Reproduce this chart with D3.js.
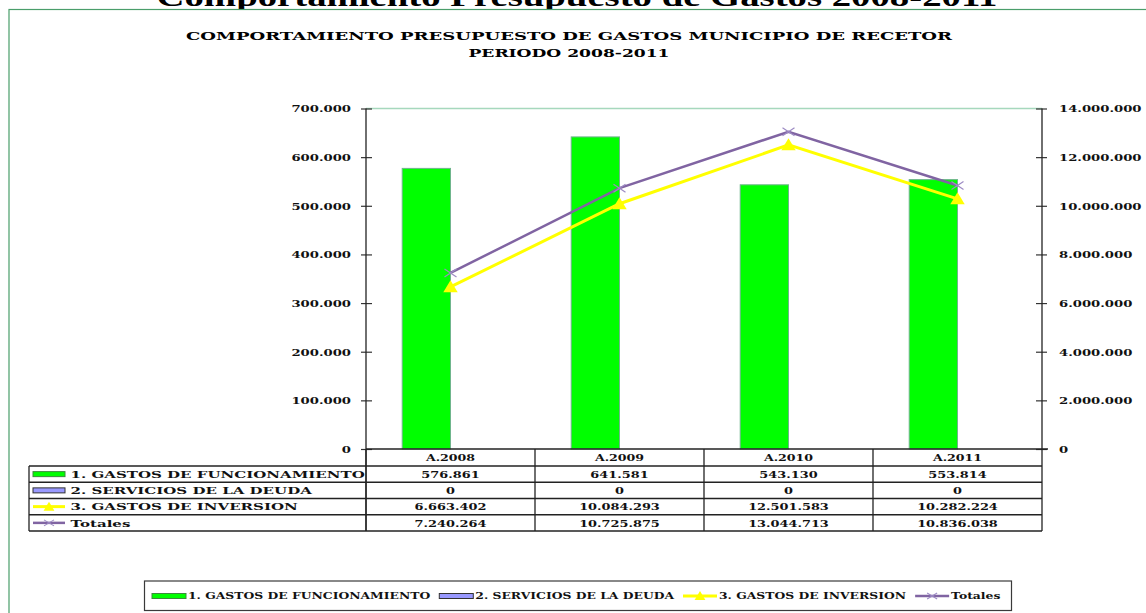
<!DOCTYPE html>
<html><head><meta charset="utf-8">
<script src="https://cdn.jsdelivr.net/npm/d3@7"></script>
<style>body{margin:0;background:#fff;} svg{display:block;}</style>
</head><body>
<svg id="c" width="1146" height="613"></svg>
<script>
// ---------------- DATA ----------------
const categories = ["A.2008", "A.2009", "A.2010", "A.2011"];
const funcionamiento = [576861, 641581, 543130, 553814];
const deuda = [0, 0, 0, 0];
const inversion = [6663402, 10084293, 12501583, 10282224];
const totales = [7240264, 10725875, 13044713, 10836038];
const seriesNames = ["1. GASTOS DE FUNCIONAMIENTO", "2. SERVICIOS DE LA DEUDA", "3. GASTOS DE INVERSION", "Totales"];
const leftTicks = [0, 100000, 200000, 300000, 400000, 500000, 600000, 700000];
const rightTicks = [0, 2000000, 4000000, 6000000, 8000000, 10000000, 12000000, 14000000];
const pageTitle = "Comportamiento Presupuesto de Gastos 2008-2011";
const chartTitle = ["COMPORTAMIENTO PRESUPUESTO DE GASTOS MUNICIPIO DE RECETOR", "PERIODO 2008-2011"];

// ---------------- SETUP ----------------
const svg = d3.select("#c");
const fmt = d3.formatLocale({decimal: ",", thousands: ".", grouping: [3], currency: ["", ""]}).format(",d");
const FONT = "'DejaVu Serif', serif";
const C = {green: "#00ff00", blue: "#9999ff", yellow: "#ffff00", purple: "#8064a2", purpleMk: "#9d8bc4"};

function stretch(sel, f) {
  let last = 0;
  sel.each(function () {
    const w = this.getComputedTextLength();
    last = w * f;
    this.setAttribute("textLength", w * f);
    this.setAttribute("lengthAdjust", "spacingAndGlyphs");
  });
  return last;
}

const L = 366, R = 1042, T = 108.5, B = 449;
const x0 = d3.scaleBand().domain(categories).range([L, R]).paddingInner(0).paddingOuter(0);
const x1 = d3.scaleBand().domain(["f", "d"]).range([0, x0.bandwidth()]).paddingInner(0).paddingOuter(0.75);
const yL = d3.scaleLinear().domain([0, 700000]).range([B, T]);
const yR = d3.scaleLinear().domain([0, 14000000]).range([B, T]);
const cx = c => x0(c) + x0.bandwidth() / 2;

// big page title (partially hidden behind chart object)
svg.append("text").attr("x", 577).attr("y", 6).attr("text-anchor", "middle")
  .attr("font-family", "'Liberation Serif', serif").attr("font-weight", "bold").attr("font-size", 28)
  .attr("textLength", 841).attr("lengthAdjust", "spacingAndGlyphs")
  .attr("fill", "#000").text(pageTitle);

// chart object area
svg.append("rect").attr("x", 9).attr("y", 9.5).attr("width", 1300).attr("height", 800)
  .attr("fill", "#fff").attr("stroke", "#4a9e6a").attr("stroke-width", 1.2);

// chart title
const tw = [766, 201];
chartTitle.forEach((t, i) => {
  svg.append("text").attr("x", 569).attr("y", 40 + i * 16.5).attr("text-anchor", "middle")
    .attr("font-family", FONT).attr("font-weight", "bold").attr("font-size", 11.5)
    .attr("textLength", tw[i]).attr("lengthAdjust", "spacingAndGlyphs")
    .attr("fill", "#000").text(t);
});

// top border of plot area
svg.append("line").attr("x1", L).attr("x2", R).attr("y1", T).attr("y2", T)
  .attr("stroke", "#a6d8bd").attr("stroke-width", 1.5);

// bars
const gBars = svg.append("g");
gBars.selectAll("rect.f").data(categories).join("rect").attr("class", "f")
  .attr("x", c => x0(c) + x1("f")).attr("width", x1.bandwidth())
  .attr("y", (c, i) => yL(funcionamiento[i])).attr("height", (c, i) => B - yL(funcionamiento[i]))
  .attr("fill", C.green).attr("stroke", "#6fb58c").attr("stroke-width", 1);
gBars.selectAll("rect.d").data(categories).join("rect").attr("class", "d")
  .attr("x", c => x0(c) + x1("d")).attr("width", x1.bandwidth())
  .attr("y", (c, i) => yL(deuda[i])).attr("height", (c, i) => B - yL(deuda[i]))
  .attr("fill", C.blue);

// axes
const axL = svg.append("g").attr("transform", `translate(${L},0)`)
  .call(d3.axisLeft(yL).tickValues(leftTicks).tickSize(5).tickFormat(fmt));
const axR = svg.append("g").attr("transform", `translate(${R},0)`)
  .call(d3.axisRight(yR).tickValues(rightTicks).tickSize(5).tickFormat(fmt));
[axL, axR].forEach(a => {
  a.select(".domain").remove();
  a.selectAll(".tick line").attr("stroke", "#333").attr("stroke-width", 1.2);
  a.selectAll("text").attr("font-family", FONT).attr("font-weight", "bold").attr("font-size", 9.7).attr("fill", "#111");
});
axL.selectAll(".tick line").attr("x1", 6);
axR.selectAll(".tick line").attr("x1", -6);
axL.selectAll("text").attr("x", -15).attr("dy", "0.35em");
axR.selectAll("text").attr("x", 17).attr("dy", "0.35em");
stretch(axL.selectAll("text"), 1.36);
stretch(axR.selectAll("text"), 1.36);

// lines
const lineGen = d3.line().x((d, i) => cx(categories[i])).y(d => yR(d));
svg.append("path").datum(totales).attr("d", lineGen).attr("fill", "none")
  .attr("stroke", C.purple).attr("stroke-width", 2.5);
svg.append("path").datum(inversion).attr("d", lineGen).attr("fill", "none")
  .attr("stroke", C.yellow).attr("stroke-width", 3);

function triangle(g, x, y, s) {
  g.append("path").attr("d", `M${x - s * 0.6},${y + s * 0.45} L${x + s * 0.6},${y + s * 0.45} L${x},${y - s * 0.55} Z`)
    .attr("fill", C.yellow);
}
function xMark(g, x, y, w, h, col, sw) {
  g.append("path").attr("d", `M${x - w / 2},${y - h / 2} L${x + w / 2},${y + h / 2} M${x - w / 2},${y + h / 2} L${x + w / 2},${y - h / 2}`)
    .attr("stroke", col).attr("stroke-width", sw).attr("fill", "none");
}
const gMk = svg.append("g");
inversion.forEach((v, i) => triangle(gMk, cx(categories[i]), yR(v), 12));
totales.forEach((v, i) => xMark(gMk, cx(categories[i]), yR(v), 12, 8, C.purpleMk, 1.2));

// axis lines (drawn on top, extended into table)
const tableTop = B, headH = 17, rowH = 16.25;
const tableBottom = tableTop + headH + rowH * 4;
svg.append("line").attr("x1", L).attr("x2", L).attr("y1", T).attr("y2", tableBottom).attr("stroke", "#222").attr("stroke-width", 1.3);
svg.append("line").attr("x1", R).attr("x2", R).attr("y1", T).attr("y2", tableBottom).attr("stroke", "#222").attr("stroke-width", 1.3);
svg.append("line").attr("x1", L).attr("x2", R + 6).attr("y1", B).attr("y2", B).attr("stroke", "#222").attr("stroke-width", 1.3);

// ---------------- DATA TABLE ----------------
function drawKey(g, r, xa, xb, y) {
  if (r === 0 || r === 1) {
    g.append("rect").attr("x", xa).attr("y", y - 2.5).attr("width", xb - xa).attr("height", 5)
      .attr("fill", r === 0 ? C.green : C.blue).attr("stroke", r === 0 ? "#3c8a3c" : "#333").attr("stroke-width", 1);
  } else if (r === 2) {
    g.append("line").attr("x1", xa).attr("x2", xb).attr("y1", y).attr("y2", y).attr("stroke", C.yellow).attr("stroke-width", 3);
    triangle(g, (xa + xb) / 2, y, 9);
  } else {
    g.append("line").attr("x1", xa).attr("x2", xb).attr("y1", y).attr("y2", y).attr("stroke", C.purple).attr("stroke-width", 2.5);
    xMark(g, (xa + xb) / 2, y, 10, 6, C.purpleMk, 1.1);
  }
}

const gT = svg.append("g");
const labL = 29;
categories.forEach(c => {
  gT.append("line").attr("x1", x0(c)).attr("x2", x0(c)).attr("y1", tableTop).attr("y2", tableBottom)
    .attr("stroke", "#222").attr("stroke-width", 1.3);
});
for (let r = 0; r <= 4; r++) {
  const y = tableTop + headH + r * rowH;
  gT.append("line").attr("x1", labL).attr("x2", R).attr("y1", y).attr("y2", y).attr("stroke", "#222").attr("stroke-width", 1.3);
}
gT.append("line").attr("x1", labL).attr("x2", labL).attr("y1", tableTop + headH).attr("y2", tableBottom).attr("stroke", "#222").attr("stroke-width", 1.3);

const hdr = gT.selectAll("text.h").data(categories).join("text").attr("class", "h")
  .attr("x", c => cx(c)).attr("y", tableTop + 12.3).attr("text-anchor", "middle")
  .attr("font-family", FONT).attr("font-weight", "bold").attr("font-size", 9.7).attr("fill", "#111")
  .text(c => c);
stretch(hdr, 1.3);

const rows = [funcionamiento, deuda, inversion, totales];
rows.forEach((vals, r) => {
  const yTop = tableTop + headH + r * rowH;
  const t = gT.selectAll(null).data(vals).join("text")
    .attr("x", (v, i) => cx(categories[i])).attr("y", yTop + 11.8).attr("text-anchor", "middle")
    .attr("font-family", FONT).attr("font-weight", "bold").attr("font-size", 9.7).attr("fill", "#111")
    .text(v => fmt(v));
  stretch(t, 1.33);
  const lab = gT.append("text").attr("x", 70.5).attr("y", yTop + 11.8)
    .attr("font-family", FONT).attr("font-weight", "bold").attr("font-size", 9.7).attr("fill", "#111")
    .text(seriesNames[r]);
  stretch(lab, 1.55);
  drawKey(gT, r, 33, 65, yTop + rowH / 2);
});

// ---------------- BOTTOM LEGEND ----------------
const gLg = svg.append("g");
gLg.append("rect").attr("x", 144.5).attr("y", 581).attr("width", 867).attr("height", 29.5)
  .attr("fill", "#fff").attr("stroke", "#3a3a3a").attr("stroke-width", 1.2);
let lx = 152;
const ly = 596;
seriesNames.forEach((n, r) => {
  drawKey(gLg, r, lx, lx + 34, ly);
  const t = gLg.append("text").attr("x", lx + 36).attr("y", ly + 3.4)
    .attr("font-family", FONT).attr("font-weight", "bold").attr("font-size", 9.3).attr("fill", "#111").text(n);
  const w = stretch(t, 1.33);
  lx = lx + 36 + w + 9;
});
</script>
</body></html>
